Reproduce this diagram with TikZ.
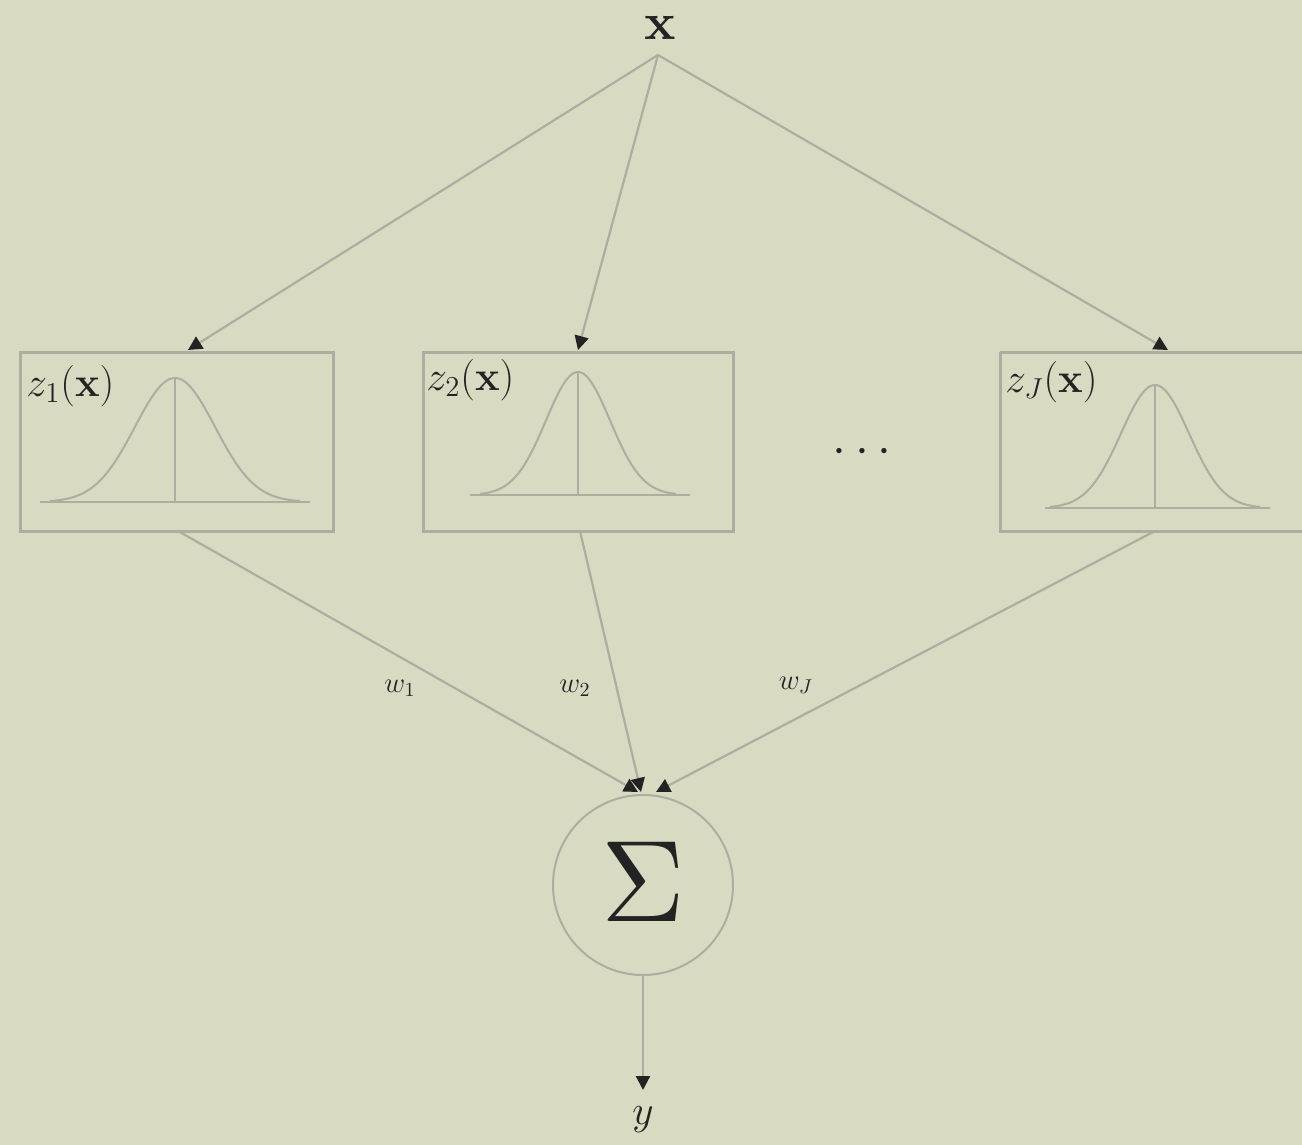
\documentclass[tikz,border=0pt]{standalone}
\usetikzlibrary{arrows.meta}
\definecolor{paper}{RGB}{216,218,194}
\definecolor{ln}{RGB}{172,174,160}
\definecolor{ink}{RGB}{35,35,35}
\tikzset{
  conn/.style={draw=ln, line width=1.1pt},
  arr/.style={conn, -{Triangle[length=7pt,width=7pt,fill=ink,color=ink]}},
  rbfbox/.style={draw=ln, line width=1.5pt},
  curve/.style={draw=ln, line width=1pt},
  lbl/.style={text=ink, inner sep=0pt},
}
\begin{document}
\begin{tikzpicture}[x=0.5pt,y=-0.5pt]
\fill[paper] (0,0) rectangle (1302,1145);
\useasboundingbox (0,0) rectangle (1302,1145);

% input
\node[lbl] (x) at (660,28) {\scalebox{2.6}{$\mathbf{x}$}};
\coordinate (apex) at (658,55);

% boxes
\draw[rbfbox] (20,352) rectangle (333,531);
\draw[rbfbox] (423,352) rectangle (733,531);
\draw[rbfbox] (1000,352) -- (1302,352) (1302,531) -- (1000,531) -- (1000,352);
\coordinate (b1t) at (188,350);
\coordinate (b2t) at (578,350);
\coordinate (b3t) at (1168,350);
\coordinate (b1b) at (178,531);
\coordinate (b2b) at (580,531);
\coordinate (b3b) at (1155,531);

% gaussians
\draw[curve] (40,502) -- (310,502);
\draw[curve] (175,378) -- (175,502);
\draw[curve, domain=50:300, samples=80] plot (\x,{502-124*exp(-((\x-175)/40)^2/2)});
\draw[curve] (470,495) -- (690,495);
\draw[curve] (578,372) -- (578,495);
\draw[curve, domain=480:676, samples=80] plot (\x,{495-123*exp(-((\x-578)/32)^2/2)});
\draw[curve] (1045,508) -- (1270,508);
\draw[curve] (1155,385) -- (1155,508);
\draw[curve, domain=1050:1260, samples=80] plot (\x,{508-123*exp(-((\x-1155)/34)^2/2)});

% labels in boxes
\node[lbl, anchor=west, font=\fontsize{20}{22}\selectfont] (l1) at (26,386) {$z_1(\mathbf{x})$};
\node[lbl, anchor=west, font=\fontsize{20}{22}\selectfont] (l2) at (426,380) {$z_2(\mathbf{x})$};
\node[lbl, anchor=west, font=\fontsize{20}{22}\selectfont] (l3) at (1005,382) {$z_J(\mathbf{x})$};
\node[lbl, font=\fontsize{26}{28}\selectfont] (dots) at (862,452) {$\cdots$};

% sum node
\node[circle, draw=ln, line width=1pt, minimum size=90pt, inner sep=0pt] (sum) at (643,885) {};
\node[lbl] (sig) at (643,882) {\scalebox{5.8}{$\Sigma$}};
\coordinate (s1) at (638,792);
\coordinate (s2) at (641,792);
\coordinate (s3) at (656,792);

% connectors
\draw[arr] (apex) -- (b1t);
\draw[arr] (apex) -- (b2t);
\draw[arr] (apex) -- (b3t);
\draw[arr] (b1b) -- (s1);
\draw[arr] (b2b) -- (s2);
\draw[arr] (b3b) -- (s3);

\node[lbl, font=\fontsize{14}{16}\selectfont] (w1) at (400,688) {$w_1$};
\node[lbl, font=\fontsize{14}{16}\selectfont] (w2) at (575,688) {$w_2$};
\node[lbl, font=\fontsize{14}{16}\selectfont] (w3) at (796,685) {$w_J$};

% output
\coordinate (yt) at (643,1090);
\draw[arr] (sum.south) -- (yt);
\node[lbl, font=\fontsize{22}{24}\selectfont] (y) at (643,1120) {$y$};
\end{tikzpicture}
\end{document}
